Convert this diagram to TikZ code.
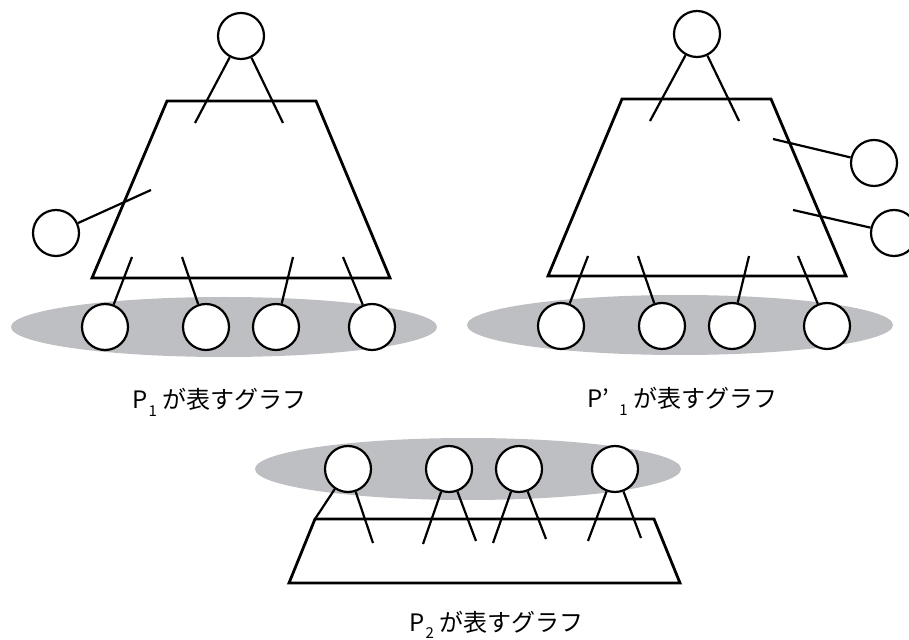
\documentclass[tikz,border=0pt]{standalone}
\usepackage{fontspec}
\setmainfont{Noto Sans CJK JP}
\definecolor{blobgray}{RGB}{190,191,195}
\newcommand{\lowsub}[1]{\raisebox{-0.55ex}{\fontsize{7.5}{8}\selectfont #1}}
\begin{document}
\begin{tikzpicture}[x=0.5pt,y=-0.5pt,
  vtx/.style={circle,draw=black,fill=white,line width=1.1pt,minimum size=23pt,inner sep=0pt},
  edge/.style={draw=black,line width=1.1pt},
  box/.style={draw=black,line width=1.4pt,line join=miter},
  blob/.style={fill=blobgray},
  lab/.style={font=\fontsize{12}{14}\selectfont,inner sep=0pt,anchor=base west}]
\useasboundingbox (0,0) rectangle (909,640);

% ---------- Left: P1 ----------
\fill[blob] (224,327) ellipse [x radius=106.5pt, y radius=15pt];
\draw[box] (167,101) -- (316,101) -- (390,278) -- (92,278) -- cycle;
\node[vtx] (at) at (241,36) {};
\node[vtx] (al) at (56,233) {};
\node[vtx] (ab1) at (105,327) {};
\node[vtx] (ab2) at (206,327) {};
\node[vtx] (ab3) at (276,327) {};
\node[vtx] (ab4) at (372,327) {};
\coordinate (ae1) at (195,123);
\coordinate (ae2) at (283,123);
\coordinate (ae3) at (151,190);
\coordinate (ae4) at (132,257);
\coordinate (ae5) at (182,257);
\coordinate (ae6) at (293,257);
\coordinate (ae7) at (343,257);
\draw[edge] (at) -- (ae1);
\draw[edge] (at) -- (ae2);
\draw[edge] (al) -- (ae3);
\draw[edge] (ab1) -- (ae4);
\draw[edge] (ab2) -- (ae5);
\draw[edge] (ab3) -- (ae6);
\draw[edge] (ab4) -- (ae7);
\node[lab] (alab) at (132,409) {P\kern0.5pt\lowsub{1}\kern3pt が表すグラフ};

% ---------- Right: P'1 ----------
\fill[blob] (680,325) ellipse [x radius=106.5pt, y radius=15pt];
\draw[box] (622,99) -- (771,99) -- (846,276) -- (548,276) -- cycle;
\node[vtx] (bt) at (697,34) {};
\node[vtx] (br1) at (874,163) {};
\node[vtx] (br2) at (894,233) {};
\node[vtx] (bb1) at (561,326) {};
\node[vtx] (bb2) at (662,326) {};
\node[vtx] (bb3) at (732,326) {};
\node[vtx] (bb4) at (827,326) {};
\coordinate (be1) at (650,121);
\coordinate (be2) at (739,121);
\coordinate (be3) at (773,139);
\coordinate (be4) at (793,210);
\coordinate (be5) at (588,256);
\coordinate (be6) at (638,256);
\coordinate (be7) at (749,256);
\coordinate (be8) at (798,256);
\draw[edge] (bt) -- (be1);
\draw[edge] (bt) -- (be2);
\draw[edge] (br1) -- (be3);
\draw[edge] (br2) -- (be4);
\draw[edge] (bb1) -- (be5);
\draw[edge] (bb2) -- (be6);
\draw[edge] (bb3) -- (be7);
\draw[edge] (bb4) -- (be8);
\node[lab] (blab) at (587,408) {P’\kern5pt\lowsub{1}\kern3pt が表すグラフ};

% ---------- Bottom: P2 ----------
\fill[blob] (468,469) ellipse [x radius=106.5pt, y radius=15.5pt];
\draw[box] (315,519) -- (654,519) -- (680,583) -- (289,583) -- cycle;
\node[vtx] (c1) at (348,469) {};
\node[vtx] (c2) at (449,469) {};
\node[vtx] (c3) at (519,469) {};
\node[vtx] (c4) at (615,469) {};
\coordinate (ce1) at (315,519);
\coordinate (ce2) at (373,543);
\coordinate (ce3) at (423,544);
\coordinate (ce4) at (476,541);
\coordinate (ce5) at (493,543);
\coordinate (ce6) at (546,539);
\coordinate (ce7) at (588,541);
\coordinate (ce8) at (641,538);
\draw[edge] (c1) -- (ce1);
\draw[edge] (c1) -- (ce2);
\draw[edge] (c2) -- (ce3);
\draw[edge] (c2) -- (ce4);
\draw[edge] (c3) -- (ce5);
\draw[edge] (c3) -- (ce6);
\draw[edge] (c4) -- (ce7);
\draw[edge] (c4) -- (ce8);
\node[lab] (clab) at (409,631) {P\kern0.5pt\lowsub{2}\kern3pt が表すグラフ};
\end{tikzpicture}
\end{document}
